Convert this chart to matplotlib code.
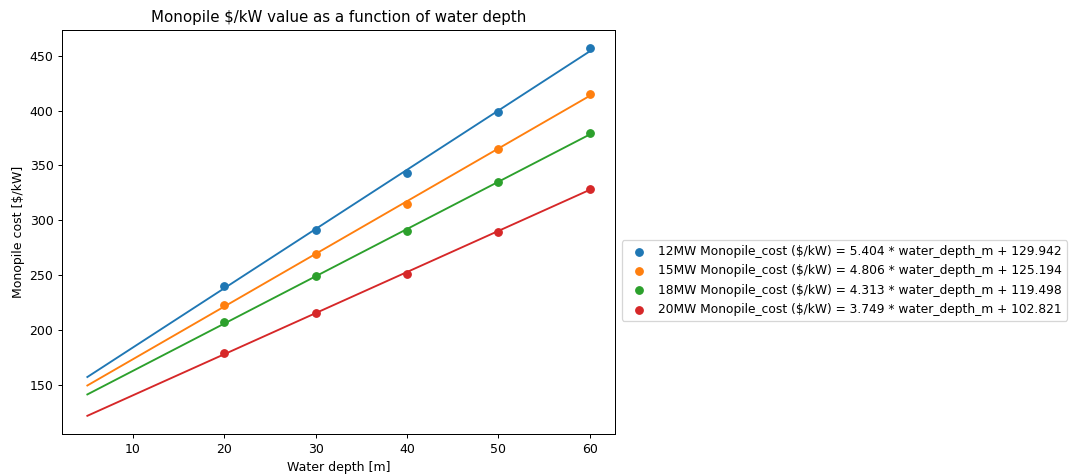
import numpy as np
import matplotlib.pyplot as plt

# monopile cost points per turbine size
depths = [20, 30, 40, 50, 60]
turbines = ['12MW', '15MW', '18MW', '20MW']
cost_12mw = [240, 291, 343, 399, 457]
cost_15mw = [223, 269, 315, 365, 415]
cost_18mw = [207, 249, 290, 335, 380]
cost_20mw = [179, 215, 251, 289, 329]

# linear fit coefficients (slope, intercept) from the legend
slopes = [5.404, 4.806, 4.313, 3.749]
intercepts = [129.942, 125.194, 119.498, 102.821]
fit_range = [5, 60]

costs = [cost_12mw, cost_15mw, cost_18mw, cost_20mw]

dpi = 90
fig = plt.figure(figsize=(1073 / dpi, 474 / dpi), dpi=dpi)
ax = fig.add_axes([0.058, 0.084, 0.515, 0.853])

x_fit = np.array(fit_range)
for i, name in enumerate(turbines):
    color = 'C{}'.format(i)
    ax.plot(x_fit, slopes[i] * x_fit + intercepts[i], color=color)
    ax.scatter(depths, costs[i], color=color, zorder=3,
               label='{} Monopile_cost (\\$/kW) = {:.3f} * water_depth_m + {:.3f}'.format(
                   name, slopes[i], intercepts[i]))

ax.set_title('Monopile \\$/kW value as a function of water depth')
ax.set_xlabel('Water depth [m]')
ax.set_ylabel('Monopile cost [\\$/kW]')
ax.legend(loc='center left', bbox_to_anchor=(1.001, 0.38), fontsize=9.8,
          handletextpad=0.6)

plt.savefig('out.png', dpi=dpi)
